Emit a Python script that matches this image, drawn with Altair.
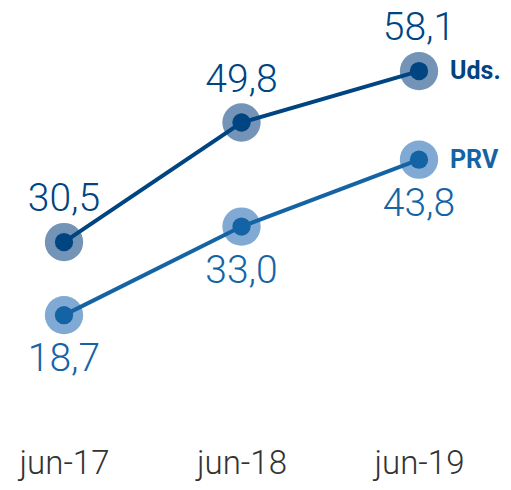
import altair as alt
import pandas as pd

periods = ["jun-17", "jun-18", "jun-19"]
series_names = ["Uds.", "PRV"]
uds_values = [30.5, 49.8, 58.1]
prv_values = [18.7, 33.0, 43.8]
uds_labels = ["30,5", "49,8", "58,1"]
prv_labels = ["18,7", "33,0", "43,8"]
line_colors = ["#004481", "#1464A5"]
halo_colors = ["#7393B7", "#80AAD3"]

rows = []
for s, vals, labs, lc, hc in [("Uds.", uds_values, uds_labels, line_colors[0], halo_colors[0]),
                              ("PRV", prv_values, prv_labels, line_colors[1], halo_colors[1])]:
    for p, v, l in zip(periods, vals, labs):
        rows.append({"series": s, "period": p, "value": v, "label": l,
                     "lcolor": lc, "hcolor": hc})
df = pd.DataFrame(rows)

x = alt.X("period:N", sort=periods,
          scale=alt.Scale(type="point", padding=0.3155),
          axis=alt.Axis(title=None, domain=False, ticks=False, tickSize=0, grid=False,
                        labelAngle=0, labelFont="Roboto", labelFontWeight=300,
                        labelFontSize=33, labelColor="#333333",
                        labelBaseline="alphabetic", labelPadding=42))
y = alt.Y("value:Q", scale=alt.Scale(domain=[0, 67.8], nice=False, zero=False), axis=None)
c_line = alt.Color("lcolor:N", scale=None)
c_halo = alt.Color("hcolor:N", scale=None)

base = alt.Chart(df).encode(x=x, y=y)

halo = base.mark_circle(size=1470, opacity=1).encode(color=c_halo)
line = base.mark_line(strokeWidth=4).encode(color=c_line, detail="series:N")
dot = base.mark_circle(size=335, opacity=1).encode(color=c_line)

lab_up = base.transform_filter(alt.datum.series == "Uds.").mark_text(
    font="Roboto", fontWeight=300, fontSize=39, baseline="alphabetic", dy=-31, align="center"
).encode(text="label:N", color=c_line)
lab_down = base.transform_filter(alt.datum.series == "PRV").mark_text(
    font="Roboto", fontWeight=300, fontSize=39, baseline="alphabetic", dy=56, align="center"
).encode(text="label:N", color=c_line)
name_lab = base.transform_filter(alt.datum.period == "jun-19").mark_text(
    font="Roboto", fontWeight="bold", fontSize=25, baseline="middle", align="left", dx=31
).encode(text="series:N", color=c_line)

chart = alt.layer(halo, line, dot, lab_up, lab_down, name_lab).properties(
    width=467, height=420,
    autosize=alt.AutoSizeParams(type="none"),
    padding={"left": 0, "top": 3, "right": 28, "bottom": 50},
).configure_view(stroke=None)

chart.save("out.html", embed_options={"renderer": "svg", "actions": False})
